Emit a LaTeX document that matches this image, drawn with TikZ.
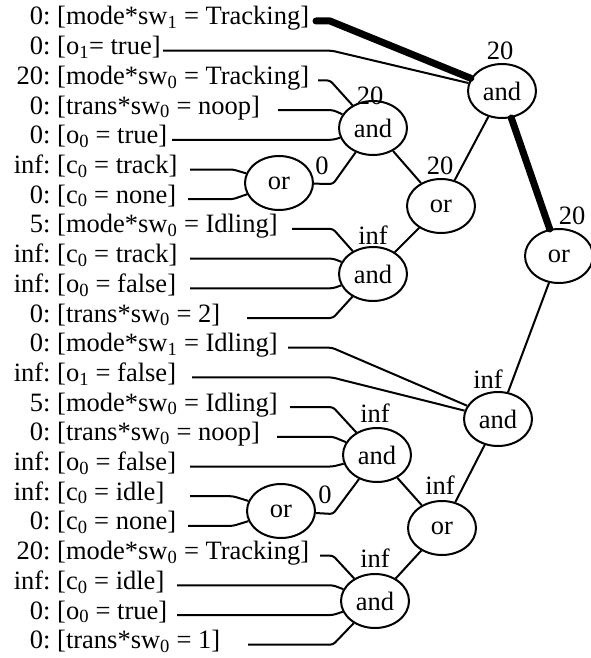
\documentclass[tikz,border=0pt]{standalone}
\usepackage{fontspec}
\setmainfont{Liberation Serif}
\usetikzlibrary{shapes.geometric}
\newcommand\subs[1]{\textsubscript{#1}}
\newcommand\txtfont{\fontsize{26.5}{30}\selectfont}
\tikzset{
  lbl/.style={anchor=base west,inner sep=0pt,font=\txtfont},
  gate/.style={ellipse,draw,line width=2pt,minimum width=68pt,minimum height=54pt,inner sep=0pt,font=\txtfont},
  val/.style={inner sep=0pt,font=\txtfont},
  wire/.style={line width=2pt,rounded corners=3pt,line join=round},
  hot/.style={line width=7pt,line cap=round,line join=round}
}
\begin{document}
\begin{tikzpicture}[x=1pt,y=-1pt]
\useasboundingbox (0,0) rectangle (591,658);
% gates
\node[gate] (A1) at (502,91) {and};
\node[gate] (R)  at (559,256) {or};
\node[gate] (A2) at (373,128) {and};
\node[gate] (O1) at (279,183) {or};
\node[gate] (O2) at (441,206) {or};
\node[gate] (A3) at (373,274) {and};
\node[gate] (B1) at (498,419) {and};
\node[gate] (B2) at (377,455) {and};
\node[gate] (O3) at (281,511) {or};
\node[gate] (O4) at (442,528) {or};
\node[gate] (B3) at (375,601) {and};
% values
\node[val] (vA1) at (500,51) {20};
\node[val] (vR)  at (572,216) {20};
\node[val] (vA2) at (370,96) {20};
\node[val] (vO1) at (322,166) {0};
\node[val] (vO2) at (440,166) {20};
\node[val] (vA3) at (373,235) {inf};
\node[val] (vB1) at (488,379) {inf};
\node[val] (vB2) at (375,413) {inf};
\node[val] (vO3) at (325,495) {0};
\node[val] (vO4) at (440,485) {inf};
\node[val] (vB3) at (375,558) {inf};
% texts
\node[lbl] (t1)  at (57,25.0)  {\llap{0:\ }[mode*sw\subs{1} = Tracking]};
\node[lbl] (t2)  at (57,54.7)  {\llap{0:\ }[o\subs{1}= true]};
\node[lbl] (t3)  at (57,84.4)  {\llap{20:\ }[mode*sw\subs{0} = Tracking]};
\node[lbl] (t4)  at (57,114.1) {\llap{0:\ }[trans*sw\subs{0} = noop]};
\node[lbl] (t5)  at (57,143.8) {\llap{0:\ }[o\subs{0} = true]};
\node[lbl] (t6)  at (57,173.5) {\llap{inf:\ }[c\subs{0} = track]};
\node[lbl] (t7)  at (57,203.2) {\llap{0:\ }[c\subs{0} = none]};
\node[lbl] (t8)  at (57,232.9) {\llap{5:\ }[mode*sw\subs{0} = Idling]};
\node[lbl] (t9)  at (57,262.6) {\llap{inf:\ }[c\subs{0} = track]};
\node[lbl] (t10) at (57,292.3) {\llap{inf:\ }[o\subs{0} = false]};
\node[lbl] (t11) at (57,322.0) {\llap{0:\ }[trans*sw\subs{0} = 2]};
\node[lbl] (t12) at (57,351.7) {\llap{0:\ }[mode*sw\subs{1} = Idling]};
\node[lbl] (t13) at (57,381.4) {\llap{inf:\ }[o\subs{1} = false]};
\node[lbl] (t14) at (57,411.1) {\llap{5:\ }[mode*sw\subs{0} = Idling]};
\node[lbl] (t15) at (57,440.8) {\llap{0:\ }[trans*sw\subs{0} = noop]};
\node[lbl] (t16) at (57,470.5) {\llap{inf:\ }[o\subs{0} = false]};
\node[lbl] (t17) at (57,500.2) {\llap{inf:\ }[c\subs{0} = idle]};
\node[lbl] (t18) at (57,529.9) {\llap{0:\ }[c\subs{0} = none]};
\node[lbl] (t19) at (57,559.6) {\llap{20:\ }[mode*sw\subs{0} = Tracking]};
\node[lbl] (t20) at (57,589.3) {\llap{inf:\ }[c\subs{0} = idle]};
\node[lbl] (t21) at (57,619.0) {\llap{0:\ }[o\subs{0} = true]};
\node[lbl] (t22) at (57,648.7) {\llap{0:\ }[trans*sw\subs{0} = 1]};
% start and bend coordinates
\coordinate (s1) at (316,21.0);   \coordinate (b1) at (330,21.0);
\coordinate (s2) at (163,50.7);   \coordinate (b2) at (332,50.7);
\coordinate (s3) at (318,80.4);   \coordinate (b3) at (330,80.4);
\coordinate (s4) at (278,110.1);  \coordinate (b4) at (333,110.1);
\coordinate (s5) at (172,139.8);  \coordinate (b5) at (333,139.8);
\coordinate (s6) at (190,169.5);  \coordinate (b6) at (233,169.5);
\coordinate (s7) at (188,199.2);  \coordinate (b7) at (233,199.2);
\coordinate (s8) at (292,228.9);  \coordinate (b8) at (333,228.9);
\coordinate (s9) at (190,258.6);  \coordinate (b9) at (333,258.6);
\coordinate (s10) at (190,288.3); \coordinate (b10) at (333,288.3);
\coordinate (s11) at (247,318.0); \coordinate (b11) at (333,318.0);
\coordinate (s12) at (288,347.7); \coordinate (b12) at (332,347.7);
\coordinate (s13) at (192,377.4); \coordinate (b13) at (332,377.4);
\coordinate (s14) at (290,407.1); \coordinate (b14) at (333,407.1);
\coordinate (s15) at (277,436.8); \coordinate (b15) at (333,436.8);
\coordinate (s16) at (190,466.5); \coordinate (b16) at (333,466.5);
\coordinate (s17) at (190,496.2); \coordinate (b17) at (233,496.2);
\coordinate (s18) at (188,525.9); \coordinate (b18) at (233,525.9);
\coordinate (s19) at (320,555.6); \coordinate (b19) at (333,555.6);
\coordinate (s20) at (177,585.3); \coordinate (b20) at (333,585.3);
\coordinate (s21) at (177,615.0); \coordinate (b21) at (333,615.0);
\coordinate (s22) at (248,644.7); \coordinate (b22) at (333,644.7);
\coordinate (bO1) at (333,184);
\coordinate (bO3) at (333,514);
% wires
\draw[hot] (s1) -- (b1) -- (A1);
\draw[hot] (A1) -- (R);
\draw[wire] (s2) -- (b2) -- (A1);
\draw[wire] (s3) -- (b3) -- (A2);
\draw[wire] (s4) -- (b4) -- (A2);
\draw[wire] (s5) -- (b5) -- (A2);
\draw[wire] (s6) -- (b6) -- (O1);
\draw[wire] (s7) -- (b7) -- (O1);
\draw[wire] (O1) -- (bO1) -- (A2);
\draw[wire] (A2) -- (O2);
\draw[wire] (O2) -- (A1);
\draw[wire] (s8) -- (b8) -- (A3);
\draw[wire] (s9) -- (b9) -- (A3);
\draw[wire] (s10) -- (b10) -- (A3);
\draw[wire] (s11) -- (b11) -- (A3);
\draw[wire] (A3) -- (O2);
\draw[wire] (R) -- (B1);
\draw[wire] (s12) -- (b12) -- (B1);
\draw[wire] (s13) -- (b13) -- (B1);
\draw[wire] (s14) -- (b14) -- (B2);
\draw[wire] (s15) -- (b15) -- (B2);
\draw[wire] (s16) -- (b16) -- (B2);
\draw[wire] (s17) -- (b17) -- (O3);
\draw[wire] (s18) -- (b18) -- (O3);
\draw[wire] (O3) -- (bO3) -- (B2);
\draw[wire] (B2) -- (O4);
\draw[wire] (O4) -- (B1);
\draw[wire] (s19) -- (b19) -- (B3);
\draw[wire] (s20) -- (b20) -- (B3);
\draw[wire] (s21) -- (b21) -- (B3);
\draw[wire] (s22) -- (b22) -- (B3);
\draw[wire] (B3) -- (O4);
\end{tikzpicture}
\end{document}
